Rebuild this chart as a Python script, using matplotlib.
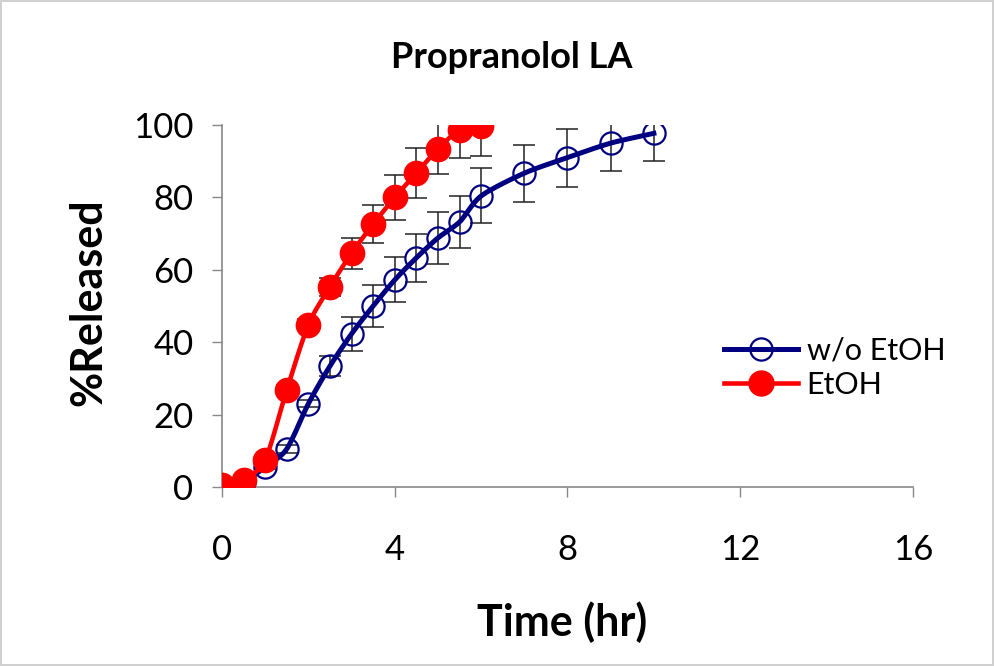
import numpy as np
import matplotlib.pyplot as plt
from matplotlib.lines import Line2D

# data
t_wo = [0, 0.5, 1, 1.5, 2, 2.5, 3, 3.5, 4, 4.5, 5, 5.5, 6, 7, 8, 9, 10]
rel_wo = [0, 1.5, 5.5, 10.5, 23, 33.4, 42.3, 50, 57.2, 63.3, 68.8, 73.2, 80.4, 86.7, 91, 95, 97.7]
err_wo = [0, 0.3, 0.5, 1, 1, 2.8, 4.6, 5.7, 6.2, 6.7, 7.3, 7.2, 7.6, 7.9, 8, 7.6, 7.7]

t_et = [0, 0.5, 1, 1.5, 2, 2.5, 3, 3.5, 4, 4.5, 5, 5.5, 6]
rel_et = [0.5, 2, 7.5, 26.8, 44.8, 55.3, 64.6, 72.6, 80, 86.7, 93.4, 98.6, 99.7]
err_et = [0, 0.3, 1, 1.5, 1.5, 2.5, 4.3, 5.2, 6.3, 7, 6.9, 7.7, 8.3]

x_ticks = [0, 4, 8, 12, 16]
y_ticks = [0, 20, 40, 60, 80, 100]

FONT = ['Lato', 'DejaVu Sans']
plt.rcParams['font.family'] = FONT


def smooth(x, y, n=20):
    # Excel-like smoothed line (Catmull-Rom through the points)
    x = np.asarray(x, float)
    y = np.asarray(y, float)
    px = np.concatenate([[x[0]], x, [x[-1]]])
    py = np.concatenate([[y[0]], y, [y[-1]]])
    xs, ys = [], []
    s = np.linspace(0, 1, n, endpoint=False)
    for i in range(1, len(px) - 2):
        p0, p1, p2, p3 = px[i - 1], px[i], px[i + 1], px[i + 2]
        q0, q1, q2, q3 = py[i - 1], py[i], py[i + 1], py[i + 2]
        for a, b, c, d, out in ((p0, p1, p2, p3, xs), (q0, q1, q2, q3, ys)):
            m1 = (c - a) / 2 * 0.8
            m2 = (d - b) / 2 * 0.8
            h00 = 2 * s**3 - 3 * s**2 + 1
            h10 = s**3 - 2 * s**2 + s
            h01 = -2 * s**3 + 3 * s**2
            h11 = s**3 - s**2
            out.extend(h00 * b + h10 * m1 + h01 * c + h11 * m2)
    xs.append(x[-1])
    ys.append(y[-1])
    return np.array(xs), np.array(ys)


fig = plt.figure(figsize=(9.94, 6.66), dpi=100)
fig.patch.set_edgecolor('#d0d0d0')
fig.patch.set_linewidth(1.5)
ax = fig.add_axes([0.2233, 0.2688, 0.6952, 0.5435])

blue = '#000080'
red = '#ff0000'

ax.errorbar(t_wo, rel_wo, yerr=err_wo, fmt='none', ecolor='#222222', elinewidth=1.1, capsize=8, capthick=1.1, zorder=2)
ax.errorbar(t_et, rel_et, yerr=err_et, fmt='none', ecolor='#222222', elinewidth=1.1, capsize=8, capthick=1.1, zorder=2)

sx, sy = smooth(t_wo, rel_wo)
ax.plot(sx, sy, color=blue, lw=3.6, zorder=3)
ax.plot(t_wo, rel_wo, 'o', ms=16, mfc='none', mec=blue, mew=1.6, zorder=4)

sx, sy = smooth(t_et, rel_et)
ax.plot(sx, sy, color=red, lw=3.3, zorder=5)
ax.plot(t_et, rel_et, 'o', ms=17.5, color=red, zorder=6)

ax.set_xlim(0, 16)
ax.set_ylim(0, 100)
ax.set_xticks(x_ticks)
ax.set_yticks(y_ticks)
ax.tick_params(direction='out', length=7.5, width=1, color='#888888', labelsize=25)
ax.tick_params(axis='x', pad=26)
ax.tick_params(axis='y', pad=13)
for side in ('top', 'right'):
    ax.spines[side].set_visible(False)
for side in ('left', 'bottom'):
    ax.spines[side].set_color('#888888')
    ax.spines[side].set_linewidth(1.2)
for spine in ax.spines.values():
    spine.set_clip_on(False)
ax.patch.set_alpha(0)

fig.text(0.515, 0.913, 'Propranolol LA', ha='center', va='center', fontsize=26, fontweight='bold')
fig.text(0.566, 0.065, 'Time (hr)', ha='center', va='center', fontsize=31, fontweight='bold')
fig.text(0.089, 0.547, '%Released', ha='center', va='center', fontsize=31, fontweight='bold', rotation=90)

handles = [
    Line2D([], [], color=blue, lw=3.6, marker='o', ms=16, mfc='none', mec=blue, mew=1.6),
    Line2D([], [], color=red, lw=3.3, marker='o', ms=18),
]
ax.legend(handles, ['w/o EtOH', 'EtOH'], loc='center left', bbox_to_anchor=(0.687, 0.33),
          frameon=False, fontsize=22, handlelength=2.4, labelspacing=0.2, handletextpad=0.3)

fig.savefig('out.png', dpi=100)
